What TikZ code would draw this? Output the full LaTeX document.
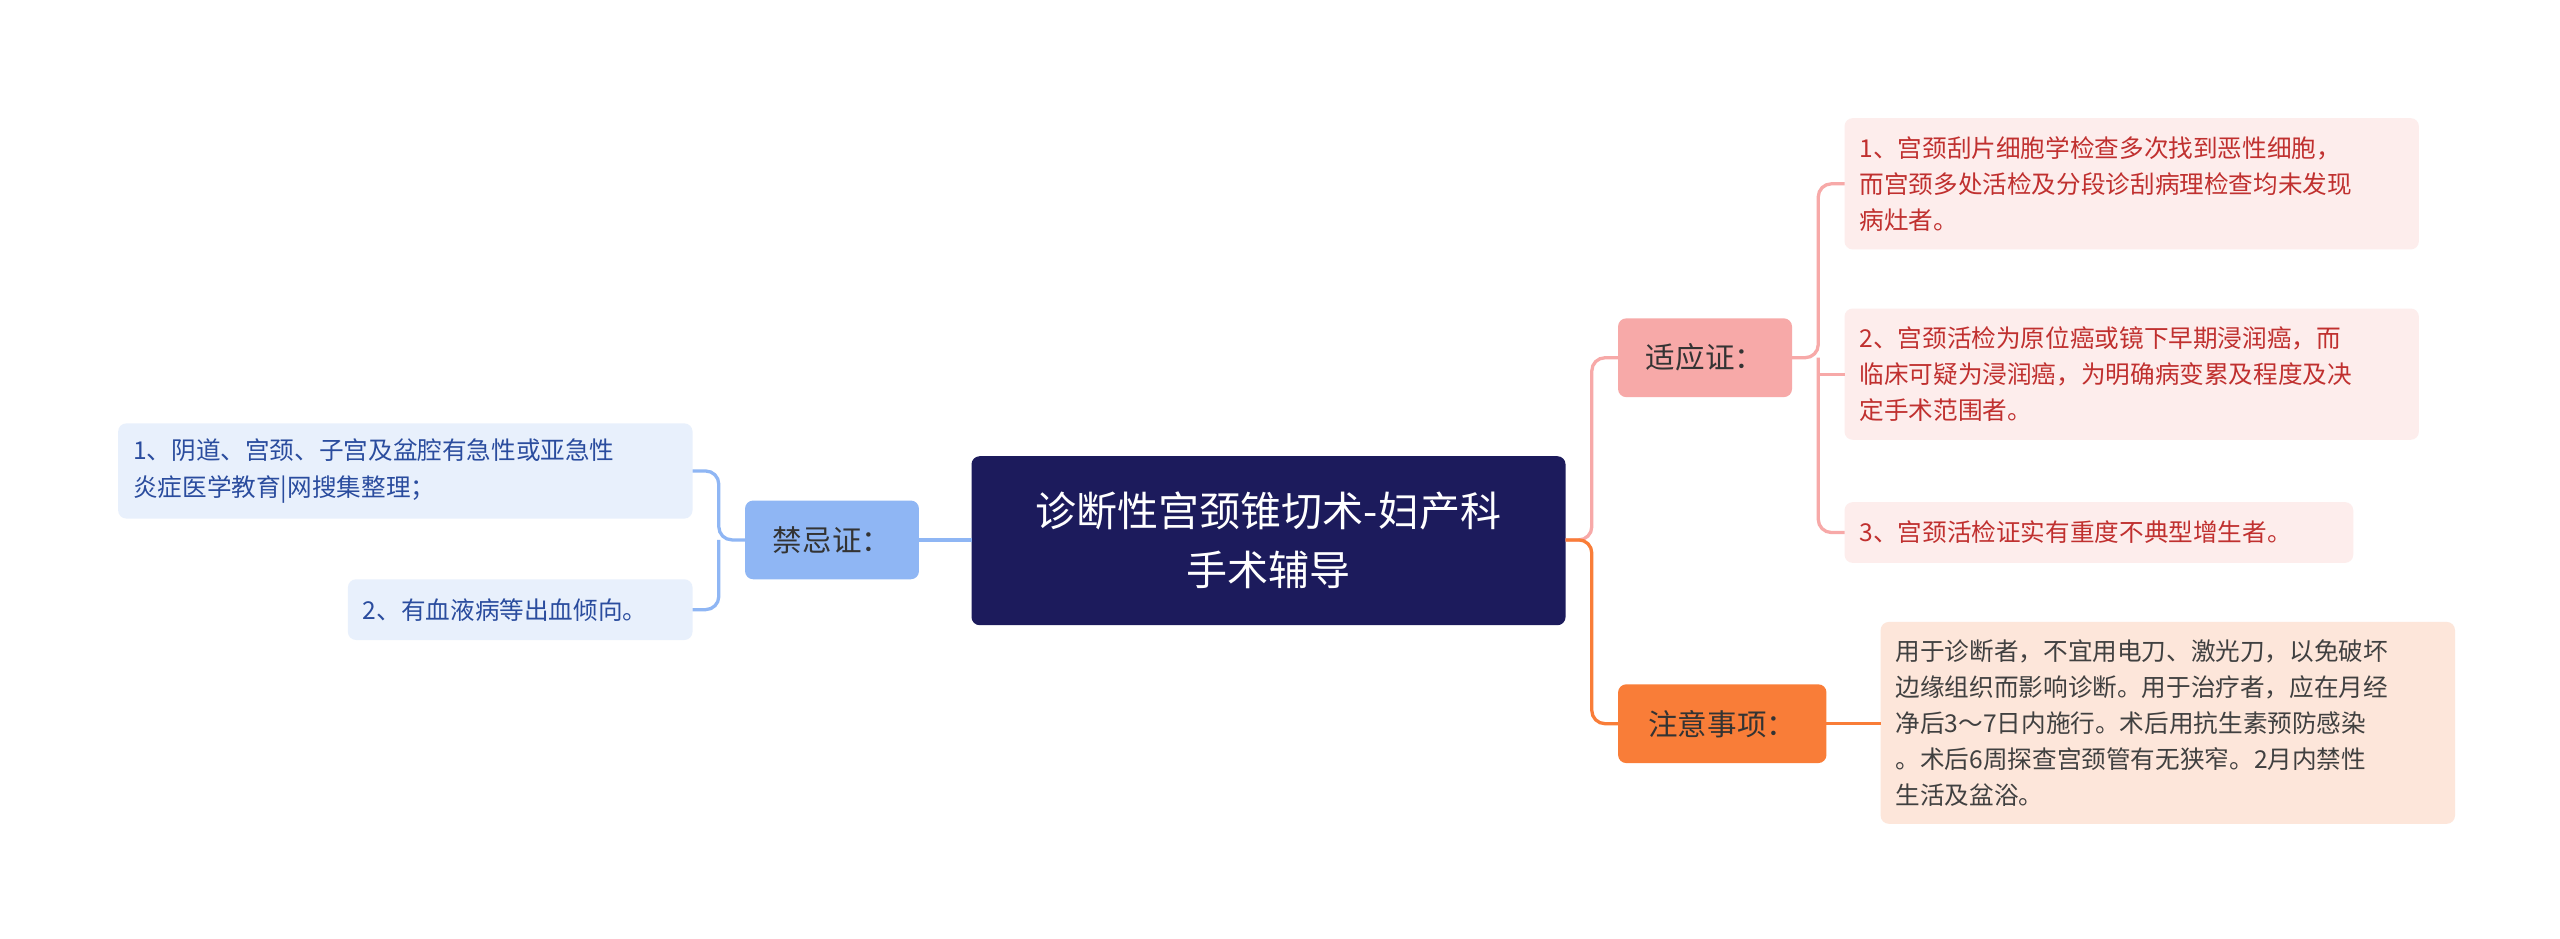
\documentclass[tikz,border=0pt]{standalone}
\usepackage{fontspec}
\newfontfamily\cjk{Noto Sans CJK SC}
\begin{document}
\begin{tikzpicture}[x=1pt,y=-1pt,
 box/.style={rounded corners=5pt,inner sep=0pt,align=left,font=\cjk\fontsize{15}{22}\selectfont},
 ln/.style={line width=2pt,rounded corners=8pt}]
\definecolor{navy}{HTML}{1C1B5C}
\definecolor{bl}{HTML}{8FB6F4}
\definecolor{bll}{HTML}{E8F0FC}
\definecolor{blt}{HTML}{2A4C9E}
\definecolor{pk}{HTML}{F7A9A8}
\definecolor{pkl}{HTML}{FDEDEC}
\definecolor{pkt}{HTML}{C0302F}
\definecolor{or}{HTML}{F97D38}
\definecolor{orl}{HTML}{FDE6DA}
\useasboundingbox[fill=white] (0,0) rectangle (1560,572);
\path[fill=navy,rounded corners=5pt] (592,278) rectangle (954,381);
\node[font=\cjk\fontsize{25}{36}\selectfont,text=white,align=center] (c) at (773,329.5) {诊断性宫颈锥切术-妇产科\\手术辅导};
\coordinate (cl) at (592,329); \coordinate (cr) at (954,329);
% left
\path[fill=bl,rounded corners=5pt] (454,305) rectangle (560,353);
\node[font=\cjk\fontsize{18}{22}\selectfont,text=black!80] (j) at (507,329) {禁忌证：};
\path[fill=bll,rounded corners=5pt] (72,258) rectangle (422,316);
\node[box,text=blt,anchor=west] (l1) at (81,287) {1、阴道、宫颈、子宫及盆腔有急性或亚急性\\炎症医学教育|网搜集整理；};
\path[fill=bll,rounded corners=5pt] (212,353) rectangle (422,390);
\node[box,text=blt,anchor=west] (l2) at (221,371.5) {2、有血液病等出血倾向。};
\draw[bl,line width=2pt] (cl) -- (560,329);
\draw[bl,ln] (454,329) -- (438,329) |- (422,287);
\draw[bl,ln] (438,329) |- (422,371.5);
% right top
\path[fill=pk,rounded corners=5pt] (986,194) rectangle (1092,242);
\node[font=\cjk\fontsize{18}{22}\selectfont,text=black!80] (s) at (1039,218) {适应证：};
\path[fill=pkl,rounded corners=5pt] (1124,72) rectangle (1474,152);
\node[box,text=pkt,anchor=west] (r1) at (1133,112) {1、宫颈刮片细胞学检查多次找到恶性细胞，\\而宫颈多处活检及分段诊刮病理检查均未发现\\病灶者。};
\path[fill=pkl,rounded corners=5pt] (1124,188) rectangle (1474,268);
\node[box,text=pkt,anchor=west] (r2) at (1133,228) {2、宫颈活检为原位癌或镜下早期浸润癌，而\\临床可疑为浸润癌，为明确病变累及程度及决\\定手术范围者。};
\path[fill=pkl,rounded corners=5pt] (1124,306) rectangle (1434,343);
\node[box,text=pkt,anchor=west] (r3) at (1133,324.5) {3、宫颈活检证实有重度不典型增生者。};
\draw[pk,ln] (954,329) -- (970,329) |- (986,218);
\draw[pk,ln] (1092,218) -- (1108,218) |- (1124,112);
\draw[pk,ln] (1108,218) |- (1124,324.5);
\draw[pk,line width=2pt] (1108,228) -- (1124,228);
% right bottom
\path[fill=or,rounded corners=5pt] (986,417) rectangle (1113,465);
\node[font=\cjk\fontsize{18}{22}\selectfont,text=black!80] (z) at (1049.5,441) {注意事项：};
\path[fill=orl,rounded corners=5pt] (1146,379) rectangle (1496,502);
\node[box,text=black!75,anchor=west] (r4) at (1155,440.5) {用于诊断者，不宜用电刀、激光刀，以免破坏\\边缘组织而影响诊断。用于治疗者，应在月经\\净后3～7日内施行。术后用抗生素预防感染\\。术后6周探查宫颈管有无狭窄。2月内禁性\\生活及盆浴。};
\draw[or,ln] (954,329) -- (970,329) |- (986,441);
\draw[or,line width=2pt] (1113,441) -- (1146,441);
\end{tikzpicture}
\end{document}
